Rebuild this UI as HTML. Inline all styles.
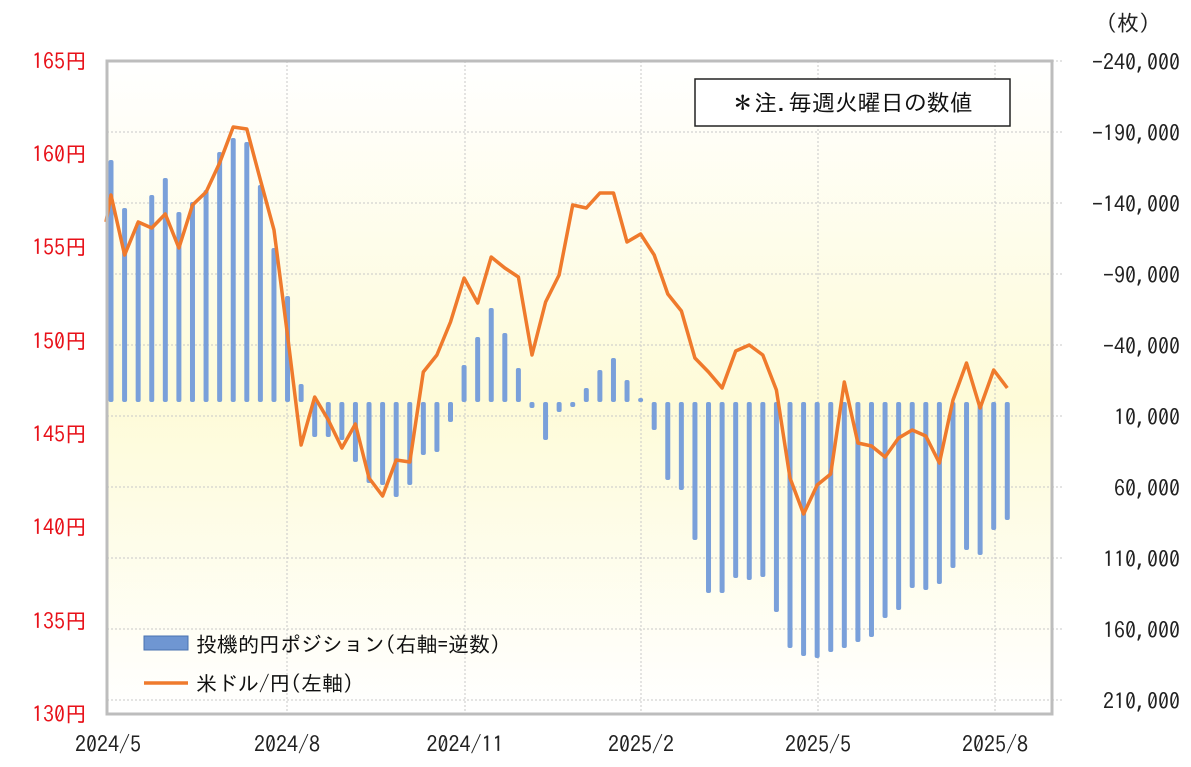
<!DOCTYPE html>
<html><head><meta charset="utf-8"><style>
body{margin:0;background:#fff;}
svg{display:block;font-family:"IPAGothic","Noto Sans CJK JP",sans-serif;}
</style></head><body>
<svg id="s" width="1191" height="767" viewBox="0 0 1191 767">
<defs>
<linearGradient id="bg" x1="0" y1="0" x2="0" y2="1">
<stop offset="0" stop-color="#ffffff"/>
<stop offset="0.52" stop-color="#fefbd8"/>
<stop offset="1" stop-color="#ffffff"/>
</linearGradient>
</defs>
<rect x="107" y="61" width="945" height="653" fill="url(#bg)"/>
<g id="grid" stroke="#c8c8c8" stroke-dasharray="2,2" stroke-width="1"></g>
<g id="bars"></g>
<polyline id="ln" fill="none" stroke="#ef7a2c" stroke-width="3.5" stroke-linejoin="round"/>
<rect x="107" y="61" width="945" height="653" fill="none" stroke="#bdbdbd" stroke-width="3"/>
<g fill="#e8121a" font-size="22" text-anchor="end">
<text x="87" y="69">165円</text><text x="87" y="162">160円</text><text x="87" y="255">155円</text>
<text x="87" y="349">150円</text><text x="87" y="442">145円</text><text x="87" y="535">140円</text>
<text x="87" y="629">135円</text><text x="87" y="722">130円</text>
</g>
<g fill="#222" font-size="22" text-anchor="end">
<text x="1150" y="31">(枚)</text>
<text x="1180" y="70">−240,000</text><text x="1180" y="141">−190,000</text><text x="1180" y="212">−140,000</text>
<text x="1180" y="283">−90,000</text><text x="1180" y="354">−40,000</text><text x="1180" y="425">10,000</text>
<text x="1180" y="496">60,000</text><text x="1180" y="567">110,000</text><text x="1180" y="638">160,000</text>
<text x="1180" y="709">210,000</text>
</g>
<g fill="#222" font-size="22" text-anchor="middle">
<text x="108" y="752">2024/5</text><text x="287" y="752">2024/8</text><text x="465" y="752">2024/11</text>
<text x="641" y="752">2025/2</text><text x="818" y="752">2025/5</text><text x="995" y="752">2025/8</text>
</g>
<rect x="695" y="79" width="315" height="47" fill="#fff" stroke="#222" stroke-width="1.5"/>
<text x="852" y="111" font-size="23" text-anchor="middle" fill="#111">＊注.毎週火曜日の数値</text>
<rect x="144" y="636" width="44" height="14" fill="#6f96d2" stroke="#4a72b0"/>
<text x="196" y="652" font-size="21" fill="#111">投機的円ポジション(右軸=逆数)</text>
<line x1="144" y1="683" x2="188" y2="683" stroke="#ef7a2c" stroke-width="3.5"/>
<text x="196" y="691" font-size="21" fill="#111">米ドル/円(左軸)</text>
</svg>
<script>
var NS="http://www.w3.org/2000/svg",s=document.getElementById('s');
var g=document.getElementById('grid');
function L(a,b,c,d){var l=document.createElementNS(NS,'line');l.setAttribute('x1',a);l.setAttribute('y1',b);l.setAttribute('x2',c);l.setAttribute('y2',d);g.appendChild(l);}
for(var i=1;i<10;i++){var y=61+71*i;L(107,y,1052,y);}
[287,465,641,818,995].forEach(function(x){L(x,61,x,714);});
[61,132,203,274,345,416,487,558,629,700].forEach(function(y){L(1052,y,1062,y);});
var bt=[160,208,222,195,178,212,202,190,152,138,142,185,248,296,384,437,437,440,462,483,485,497,485,455,452,422,365,337,308,333,368,408,440,412,407,388,370,358,380,398,430,480,490,540,593,593,578,580,577,612,648,656,658,652,648,642,637,618,610,588,590,584,568,550,555,530,520];
var lv=[195,255,222,228,214,248,205,192,163,127,129,180,230,335,445,397,420,448,424,478,496,460,462,372,355,322,278,303,257,268,277,355,302,275,205,208,193,193,242,234,255,294,311,358,372,388,351,345,355,390,478,514,485,474,382,443,446,457,438,430,436,463,400,363,408,370,388];
var bg=document.getElementById('bars'),base=402,pts="106,222 ";
for(var i=0;i<bt.length;i++){var x=111+i*13.58;var y1=Math.min(bt[i],base),h=Math.max(2,Math.abs(bt[i]-base));
var r=document.createElementNS(NS,'rect');r.setAttribute('x',x-2.5);r.setAttribute('y',y1);r.setAttribute('width',5);r.setAttribute('height',h);r.setAttribute('rx',2);r.setAttribute('fill','#7aa0da');bg.appendChild(r);
pts+=x.toFixed(1)+","+lv[i]+" ";}
document.getElementById('ln').setAttribute('points',pts);
</script>
</body></html>
